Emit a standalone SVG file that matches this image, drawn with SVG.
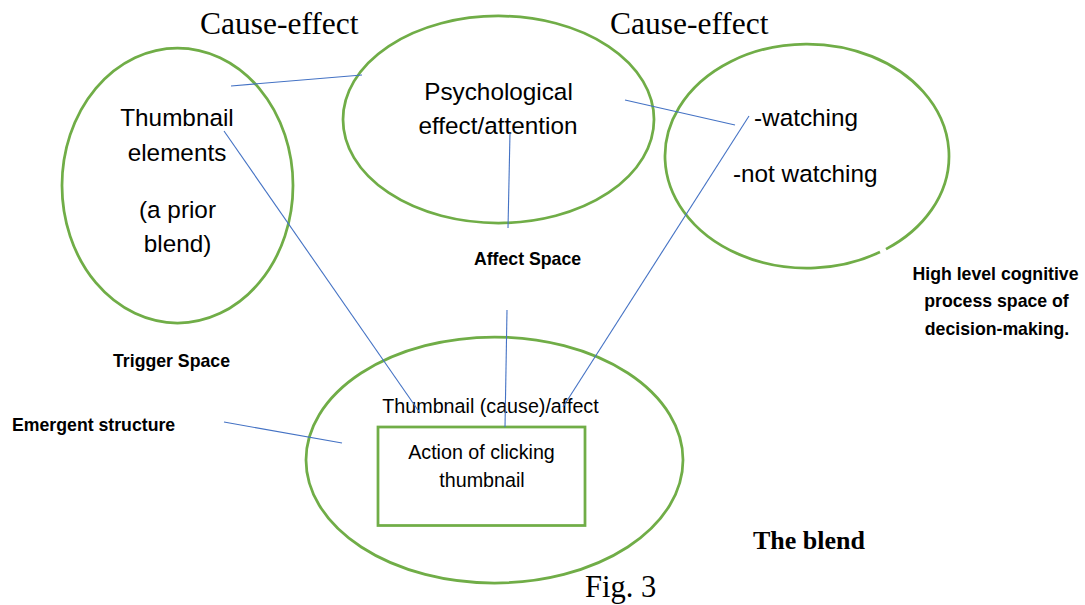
<svg xmlns="http://www.w3.org/2000/svg" width="1085" height="605" viewBox="0 0 1085 605">
<style>
.sp{fill:none;stroke:#70AD47;stroke-width:2.75}
.ln{stroke:#4472C4;stroke-width:1.1;fill:none}
.t{font-family:"Liberation Sans",Arial,sans-serif;font-size:24.3px;fill:#000}
.s{font-family:"Liberation Sans",Arial,sans-serif;font-size:19.7px;fill:#000}
.b{font-family:"Liberation Sans",Arial,sans-serif;font-size:17.7px;font-weight:bold;fill:#000}
.h{font-family:"Liberation Serif","Times New Roman",serif;font-size:31.5px;fill:#000}
.m{text-anchor:middle}
</style>
<rect width="1085" height="605" fill="#fff"/>
<g id="trigger-space">
<ellipse class="sp" cx="177.5" cy="185.5" rx="115.5" ry="137.5"/>
<text class="t m" x="177" y="126">Thumbnail</text>
<text class="t m" x="177" y="161">elements</text>
<text class="t m" x="177.5" y="218">(a prior</text>
<text class="t m" x="177.5" y="252">blend)</text>
<text class="b m" x="171.5" y="367">Trigger Space</text>
</g>
<g id="affect-space">
<ellipse class="sp" cx="498.5" cy="119.5" rx="155.5" ry="103.5"/>
<text class="t m" x="498.5" y="100">Psychological</text>
<text class="t m" x="498" y="134">effect/attention</text>
<text class="b m" x="527.5" y="265">Affect Space</text>
</g>
<g id="decision-space">
<path class="sp" d="M886,249.1 A142,112 0 1 0 880,252.1"/>
<text class="t" x="754" y="126">-watching</text>
<text class="t" x="733" y="182">-not watching</text>
<text class="b m" x="995.5" y="280">High level cognitive</text>
<text class="b m" x="996.5" y="307">process space of</text>
<text class="b m" x="997" y="335">decision-making.</text>
</g>
<g id="blend">
<ellipse class="sp" cx="494.5" cy="460" rx="188.5" ry="123"/>
<text class="s m" x="490.5" y="413">Thumbnail (cause)/affect</text>
<text class="b" x="12" y="431">Emergent structure</text>
<text class="h" x="753" y="549" style="font-size:26px;font-weight:bold">The blend</text>
</g>
<g id="emergent-structure">
<rect class="sp" x="378" y="427" width="207" height="98.5"/>
<text class="s m" x="481.5" y="459">Action of clicking</text>
<text class="s m" x="482" y="487">thumbnail</text>
</g>
<g id="cause-effect-labels">
<text class="h" x="200" y="34">Cause-effect</text>
<text class="h" x="610" y="34">Cause-effect</text>
</g>
<g id="connectors">
<line class="ln" x1="231" y1="86" x2="362" y2="75"/>
<line class="ln" x1="625" y1="100" x2="735" y2="125"/>
<line class="ln" x1="224" y1="131" x2="420" y2="413"/>
<line class="ln" x1="510" y1="133" x2="508" y2="228"/>
<line class="ln" x1="507" y1="310" x2="505" y2="427"/>
<line class="ln" x1="749" y1="116" x2="563" y2="407"/>
<line class="ln" x1="224" y1="422" x2="342" y2="443"/>
</g>
<text class="h" x="585" y="597" style="font-size:30.5px">Fig. 3</text>
</svg>
